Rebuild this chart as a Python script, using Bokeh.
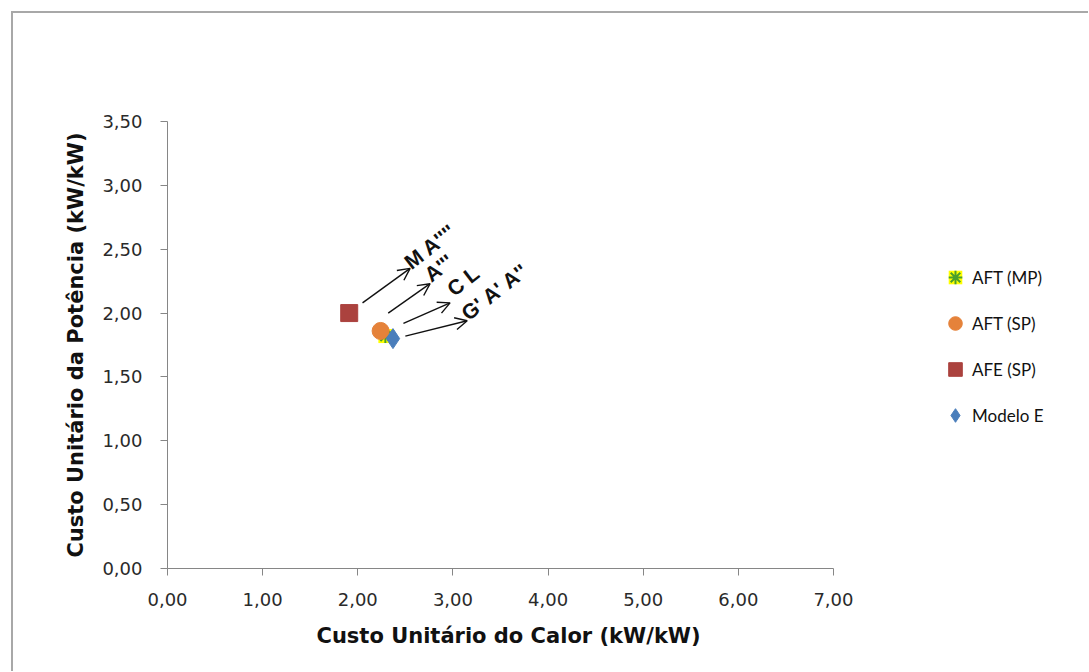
import numpy as np
from bokeh.plotting import figure
from bokeh.models import (Range1d, FixedTicker, Legend, LegendItem, Arrow, OpenHead,
                          ColumnDataSource, Title)
from bokeh.core.properties import value
from bokeh.embed import file_html
from bokeh.resources import INLINE

# ---- data ----
series_names = ["AFT (MP)", "AFT (SP)", "AFE (SP)", "Modelo E"]
heat_cost = [2.29, 2.24, 1.91, 2.37]      # Custo Unitário do Calor (kW/kW)
power_cost = [1.82, 1.86, 2.00, 1.80]     # Custo Unitário da Potência (kW/kW)

x_ticks = [0, 1, 2, 3, 4, 5, 6, 7]
x_tick_labels = ["0,00", "1,00", "2,00", "3,00", "4,00", "5,00", "6,00", "7,00"]
y_ticks = [0, 0.5, 1.0, 1.5, 2.0, 2.5, 3.0, 3.5]
y_tick_labels = ["0,00", "0,50", "1,00", "1,50", "2,00", "2,50", "3,00", "3,50"]

# annotation arrows and labels (data coordinates)
arrow_x_start = [2.05, 2.32, 2.48, 2.50]
arrow_y_start = [2.08, 2.00, 1.92, 1.82]
arrow_x_end = [2.55, 2.76, 2.97, 3.15]
arrow_y_end = [2.35, 2.23, 2.08, 1.94]
label_texts = ["M A''''", "A'''", "C L", "G' A' A''"]
label_x = [2.59, 2.80, 3.04, 3.19]
label_y = [2.31, 2.21, 2.10, 1.91]

AX = "#868686"
p = figure(width=1088, height=671, output_backend="svg", toolbar_location=None,
           x_range=Range1d(0, 9.628), y_range=Range1d(0, 3.5),
           min_border_left=167, min_border_right=5, min_border_top=121,
           min_border_bottom=103)
p.styles = {"box-shadow": "inset 11px 11px 0 0 #ffffff, inset 13px 13px 0 0 #a8a8a8"}
p.border_fill_color = None
p.outline_line_color = None
p.xgrid.grid_line_color = None
p.ygrid.grid_line_color = None

for ax in (p.xaxis[0], p.yaxis[0]):
    ax.axis_line_color = AX
    ax.major_tick_line_color = AX
    ax.minor_tick_line_color = None
    ax.major_tick_out = 7
    ax.major_tick_in = 0
    ax.major_label_text_font = "DejaVu Sans"
    ax.major_label_text_font_size = "18px"
    ax.major_label_text_color = "#2a2a2a"

p.xaxis.bounds = (0, 7)
p.xaxis.ticker = FixedTicker(ticks=x_ticks)
p.yaxis.ticker = FixedTicker(ticks=y_ticks)
p.xaxis.major_label_overrides = {t: l for t, l in zip(x_ticks, x_tick_labels)}
p.yaxis.major_label_overrides = {t: l for t, l in zip(y_ticks, y_tick_labels)}
p.xaxis.major_label_standoff = 17
p.yaxis.major_label_standoff = 18

p.add_layout(Title(text="Custo Unitário do Calor (kW/kW)", align="left", offset=149,
                   text_font="DejaVu Sans", text_font_style="bold",
                   text_font_size="21px", text_color="#111111", standoff=27), "below")

p.yaxis.axis_label = "Custo Unitário da Potência (kW/kW)"
p.yaxis.axis_label_text_font = "DejaVu Sans"
p.yaxis.axis_label_text_font_style = "bold"
p.yaxis.axis_label_text_font_size = "21px"
p.yaxis.axis_label_text_color = "#111111"
p.yaxis.axis_label_standoff = 11

# series
r_mp_bg = p.scatter([heat_cost[0]], [power_cost[0]], marker="square", size=14,
                    fill_color="#ffff00", line_color=None)
r_mp = p.scatter([heat_cost[0]], [power_cost[0]], marker="asterisk", size=14,
                 line_color="#4aa02c", line_width=2)
r_sp = p.scatter([heat_cost[1]], [power_cost[1]], marker="circle", size=17,
                 fill_color="#e5823a", line_color="#e5823a")
r_afe = p.scatter([heat_cost[2]], [power_cost[2]], marker="square", size=17,
                  fill_color="#ab423e", line_color="#ab423e")
r_me = p.scatter([heat_cost[3]], [power_cost[3]], marker="diamond", size=20,
                 fill_color="#4a7ebb", line_color="#4a7ebb")

# arrows
for xs, ys, xe, ye in zip(arrow_x_start, arrow_y_start, arrow_x_end, arrow_y_end):
    p.add_layout(Arrow(x_start=xs, y_start=ys, x_end=xe, y_end=ye,
                       line_color="#111111", line_width=1.4,
                       end=OpenHead(size=12, line_color="#111111", line_width=1.4)))

src = ColumnDataSource(dict(x=label_x, y=label_y, t=label_texts))
p.text(x="x", y="y", text="t", source=src, angle=0.66,
       text_font=value("Liberation Sans"), text_font_style="bold",
       text_font_size="21px", text_color="#111111",
       text_align="left", text_baseline="bottom")

legend = Legend(items=[
    LegendItem(label=series_names[0], renderers=[r_mp_bg, r_mp]),
    LegendItem(label=series_names[1], renderers=[r_sp]),
    LegendItem(label=series_names[2], renderers=[r_afe]),
    LegendItem(label=series_names[3], renderers=[r_me]),
], location=(771, 136))
legend.border_line_color = None
legend.background_fill_alpha = 0
legend.padding = 0
legend.margin = 0
legend.spacing = 12
legend.glyph_width = 34
legend.glyph_height = 34
legend.label_height = 34
legend.label_standoff = -7
legend.label_text_font = "Lato"
legend.label_text_font_size = "17px"
legend.label_text_color = "#111111"
p.add_layout(legend)

open("out.html", "w").write(file_html(p, INLINE))
